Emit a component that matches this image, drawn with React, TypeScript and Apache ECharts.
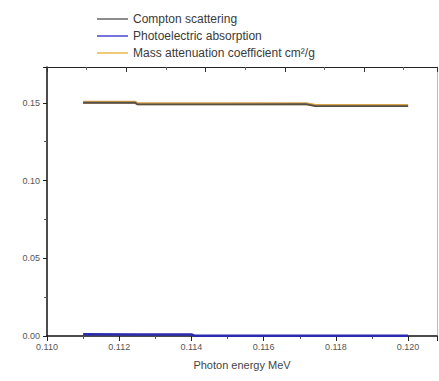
import React, { useEffect, useRef } from "react";
import * as echarts from "echarts";

const energy = [0.111, 0.11244, 0.1125, 0.11486, 0.11717, 0.11744, 0.12];
const compton = [0.15, 0.15, 0.149, 0.149, 0.1491, 0.1479, 0.1479];
const massAtt = [0.1504, 0.1504, 0.1494, 0.1494, 0.1494, 0.1482, 0.1482];
const photoEnergy = [0.111, 0.1125, 0.114, 0.1141, 0.12];
const photo = [0.0011, 0.001, 0.001, 0.0001, 0.0001];
const seriesNames = [
  "Compton scattering",
  "Photoelectric absorption",
  "Mass attenuation coefficient cm\u00b2/g",
];
const xTicks = { min: 0.11, max: 0.1208, interval: 0.002 };
const yTicks = { min: 0, max: 0.173, interval: 0.05 };

export default function App() {
  const ref = useRef<HTMLDivElement>(null);
  useEffect(() => {
    if (!ref.current) return;
    const chart = echarts.init(ref.current, null, { renderer: "svg" });
    const font = "'Liberation Sans', Arial, sans-serif";
    chart.setOption({
      animation: false,
      backgroundColor: "#fff",
      textStyle: { fontFamily: font },
      legend: {
        orient: "vertical",
        left: 92,
        top: 8,
        itemWidth: 31,
        itemHeight: 1.5,
        itemGap: 5,
        icon: "rect",
        textStyle: { fontSize: 12, color: "#3a3a3a", fontFamily: font, padding: [0, 0, 0, 0] },
        data: seriesNames,
      },
      grid: { left: 47, top: 67, right: 2, bottom: 45 },
      xAxis: [
        {
          type: "value",
          min: xTicks.min,
          max: xTicks.max,
          interval: xTicks.interval,
          name: "Photon energy MeV",
          nameLocation: "middle",
          nameGap: 23,
          nameTextStyle: { fontSize: 11, color: "#444", fontFamily: font },
          axisLine: { show: true, onZero: false, lineStyle: { color: "#111", width: 1.5 } },
          axisTick: { show: true, length: 5, lineStyle: { color: "#222" } },
          minorTick: { show: true, splitNumber: 2, length: 3, lineStyle: { color: "#555" } },
          axisLabel: {
            fontSize: 9,
            color: "#555",
            margin: 6,
            formatter: (v: number) => v.toFixed(3),
            showMaxLabel: false,
          },
          splitLine: { show: false },
        },
        {
          type: "value",
          position: "top",
          min: 0,
          max: 4.92,
          interval: 1,
          axisLine: { show: true, onZero: false, lineStyle: { color: "#222", width: 1 } },
          axisTick: { show: true, inside: true, length: 5, lineStyle: { color: "#333" } },
          minorTick: { show: true, splitNumber: 2, length: 3, lineStyle: { color: "#666" } },
          axisLabel: { show: false },
          splitLine: { show: false },
        },
      ],
      yAxis: [
        {
          type: "value",
          min: yTicks.min,
          max: yTicks.max,
          interval: yTicks.interval,
          axisLine: { show: true, onZero: false, lineStyle: { color: "#111", width: 1.5 } },
          axisTick: { show: true, length: 4, lineStyle: { color: "#222" } },
          minorTick: { show: true, splitNumber: 2, length: 3, lineStyle: { color: "#555" } },
          axisLabel: {
            fontSize: 9,
            color: "#555",
            margin: 7,
            formatter: (v: number) => v.toFixed(2),
            showMaxLabel: false,
          },
          splitLine: { show: false },
        },
        {
          type: "value",
          position: "right",
          min: 0,
          max: 1,
          interval: 0.25,
          axisLine: { show: true, onZero: false, lineStyle: { color: "#bbb", width: 1 } },
          axisTick: { show: false },
          axisLabel: { show: false },
          splitLine: { show: false },
        },
      ],
      series: [
        {
          name: seriesNames[2],
          type: "line",
          data: energy.map((e, i) => [e, massAtt[i]]),
          showSymbol: false,
          symbol: "none",
          lineStyle: { color: "#d9a24a", width: 3 },
          itemStyle: { color: "#e8b84a" },
          z: 2,
        },
        {
          name: seriesNames[0],
          type: "line",
          data: energy.map((e, i) => [e, compton[i]]),
          showSymbol: false,
          symbol: "none",
          lineStyle: { color: "#55504a", width: 1.8 },
          itemStyle: { color: "#666" },
          z: 3,
        },
        {
          name: seriesNames[1],
          type: "line",
          data: photoEnergy.map((e, i) => [e, photo[i]]),
          showSymbol: false,
          symbol: "none",
          lineStyle: { color: "#2b2bb0", width: 2.5 },
          itemStyle: { color: "#4646d0" },
          z: 4,
        },
        {
          name: "topAxisHolder",
          type: "line",
          xAxisIndex: 1,
          yAxisIndex: 1,
          data: [],
          showSymbol: false,
          silent: true,
        },
      ],
    });
    return () => chart.dispose();
  }, []);
  return <div ref={ref} style={{ width: 439, height: 381, position: "absolute", left: 0, top: 0 }} />;
}
